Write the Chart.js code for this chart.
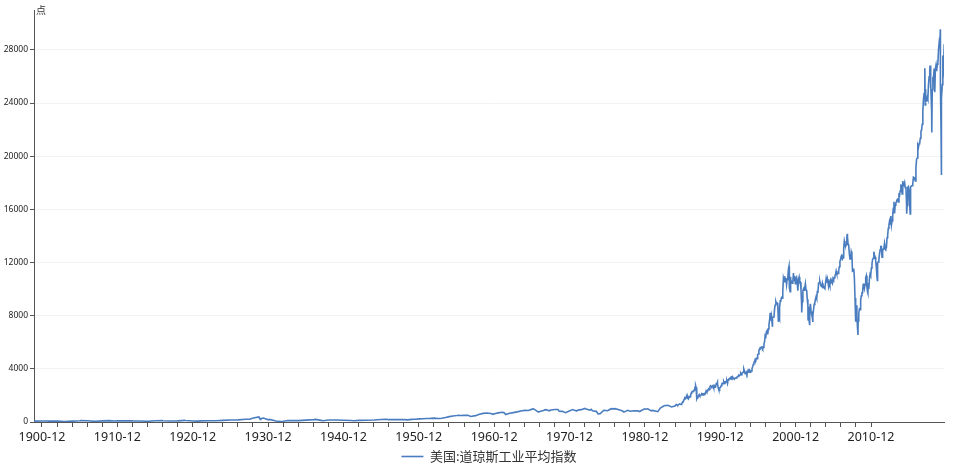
<!DOCTYPE html>
<html>
<head>
<meta charset="utf-8">
<script src="https://cdn.jsdelivr.net/npm/chart.js@4.4.1/dist/chart.umd.min.js"></script>
<style>
  html, body { margin: 0; padding: 0; background: #fff; }
  #wrap { position: relative; width: 958px; height: 473px; }
</style>
</head>
<body>
<div id="wrap"><canvas id="c"></canvas></div>
<script>
// series name and unit
const seriesName = "美国:道琼斯工业平均指数";
const unitLabel = "点";

// 1899 - 1984, sparse points (year-end plus main highs / lows)
const earlyDates = [
  "1899-11", "1900-12", "1901-06", "1901-12", "1902-12", "1903-11", "1904-12", "1905-12",
  "1906-01", "1906-12", "1907-11", "1907-12", "1908-12", "1909-11", "1910-07", "1910-12",
  "1911-12", "1912-09", "1912-12", "1913-12", "1914-12", "1915-12", "1916-11", "1916-12",
  "1917-12", "1918-12", "1919-11", "1919-12", "1920-12", "1921-08", "1921-12", "1922-12",
  "1923-12", "1924-12", "1925-12", "1926-12", "1927-12", "1928-06", "1928-12", "1929-09",
  "1929-11", "1929-12", "1930-04", "1930-12", "1931-02", "1931-12", "1932-07", "1932-12",
  "1933-07", "1933-12", "1934-12", "1935-12", "1936-12", "1937-03", "1937-12", "1938-03",
  "1938-12", "1939-12", "1940-12", "1941-12", "1942-04", "1942-12", "1943-12", "1944-12",
  "1945-12", "1946-05", "1946-12", "1947-12", "1948-12", "1949-06", "1949-12",
  "1950-06", "1950-12", "1951-06", "1951-12", "1952-06", "1952-12", "1953-06", "1953-09",
  "1953-12", "1954-06", "1954-12", "1955-06", "1955-12", "1956-03", "1956-06", "1956-12",
  "1957-06", "1957-10", "1957-12", "1958-06", "1958-12", "1959-06", "1959-12", "1960-06",
  "1960-10", "1960-12", "1961-06", "1961-12", "1962-03", "1962-06", "1962-12", "1963-06",
  "1963-12", "1964-06", "1964-12", "1965-06", "1965-12", "1966-02", "1966-06", "1966-10",
  "1966-12", "1967-06", "1967-09", "1967-12", "1968-03", "1968-06", "1968-12", "1969-05",
  "1969-07", "1969-12", "1970-05", "1970-12", "1971-04", "1971-11", "1971-12", "1972-06",
  "1972-12", "1973-01", "1973-08", "1973-10", "1973-12", "1974-06", "1974-09", "1974-12",
  "1975-06", "1975-12", "1976-06", "1976-09", "1976-12", "1977-06", "1977-12", "1978-02",
  "1978-08", "1978-12", "1979-06", "1979-12", "1980-03", "1980-06", "1980-11", "1980-12",
  "1981-04", "1981-09", "1981-12", "1982-08", "1982-12", "1983-06", "1983-12", "1984-06",
  "1984-12"
];
const earlyValues = [
  67, 71, 78, 64, 64, 43, 69, 96,
  103, 94, 53, 59, 86, 100, 73, 81,
  82, 94, 88, 79, 54, 99, 110, 95,
  74, 82, 119, 107, 72, 64, 81, 99,
  95, 120, 156, 157, 202, 210, 300, 381,
  199, 248, 294, 165, 194, 78, 41, 60,
  108, 100, 104, 144, 180, 194, 121, 99,
  155, 150, 131, 111, 93, 119, 136, 152,
  193, 212, 177, 181, 177, 161, 200,
  209, 235, 242, 269, 274, 292, 268, 264,
  281, 334, 404, 451, 488, 512, 493, 500,
  503, 420, 436, 478, 584, 650, 679, 641,
  580, 616, 684, 731, 706, 561, 652, 707,
  763, 831, 874, 868, 969, 995, 870, 744,
  786, 860, 927, 905, 840, 898, 944, 937,
  815, 800, 700, 839, 941, 831, 890, 929,
  1020, 999, 887, 956, 851, 802, 608, 616,
  879, 852, 1003, 990, 1005, 916, 831, 742,
  877, 805, 842, 839, 786, 868, 993, 964,
  998, 850, 875, 777, 1047, 1222, 1259, 1133,
  1212
];

// month-end closes from 1985-01 to 2020-08
const monthlyFrom = "1985-01";
const monthlyCloses = [
  1287, 1300, 1267, 1258, 1315, 1336, 1348, 1334, 1329, 1374, 1472, 1547, // 1985
  1571, 1709, 1819, 1784, 1877, 1893, 1775, 1898, 1768, 1878, 1914, 1896, // 1986
  2158, 2224, 2305, 2286, 2292, 2419, 2572, 2663, 2596, 1994, 1834, 1939, // 1987
  1958, 2072, 1988, 2032, 2031, 2142, 2129, 2032, 2113, 2149, 2115, 2169, // 1988
  2342, 2258, 2294, 2419, 2480, 2440, 2661, 2737, 2693, 2645, 2706, 2753, // 1989
  2591, 2627, 2707, 2657, 2877, 2881, 2905, 2614, 2453, 2442, 2560, 2634, // 1990
  2736, 2882, 2914, 2888, 3028, 2907, 3025, 3044, 3017, 3069, 2895, 3169, // 1991
  3224, 3267, 3236, 3359, 3397, 3319, 3394, 3257, 3272, 3226, 3306, 3301, // 1992
  3310, 3371, 3435, 3428, 3527, 3516, 3540, 3651, 3555, 3681, 3684, 3754, // 1993
  3978, 3832, 3636, 3682, 3758, 3625, 3765, 3913, 3843, 3908, 3739, 3834, // 1994
  3844, 4011, 4158, 4321, 4465, 4556, 4709, 4647, 4789, 4756, 5075, 5117, // 1995
  5395, 5486, 5588, 5569, 5643, 5655, 5529, 5616, 5882, 6029, 6522, 6448, // 1996
  6813, 6878, 6584, 7009, 7331, 7673, 8223, 7622, 7945, 7442, 7823, 7908, // 1997
  7907, 8546, 8800, 9063, 8900, 8952, 8883, 7539, 7843, 8592, 9117, 9181, // 1998
  9359, 9307, 9786, 10789, 10560, 10971, 10655, 10829, 10337, 10729, 10878, 11497, // 1999
  10941, 10128, 10922, 10734, 10522, 10448, 10522, 11215, 10651, 10971, 10415, 10788, // 2000
  10887, 10495, 9879, 10735, 10912, 10502, 10523, 9950, 8848, 9075, 9852, 10022, // 2001
  9920, 10106, 10404, 9946, 9925, 9243, 8737, 8664, 7592, 8397, 8896, 8342, // 2002
  8054, 7891, 7992, 8480, 8850, 8985, 9234, 9416, 9275, 9801, 9782, 10454, // 2003
  10488, 10584, 10358, 10226, 10188, 10435, 10140, 10174, 10080, 10027, 10428, 10783, // 2004
  10490, 10766, 10504, 10193, 10467, 10275, 10641, 10482, 10569, 10440, 10806, 10718, // 2005
  10865, 10993, 11109, 11367, 11168, 11150, 11186, 11381, 11679, 12081, 12222, 12463, // 2006
  12622, 12269, 12354, 13063, 13628, 13409, 13212, 13358, 13896, 13930, 13372, 13265, // 2007
  12650, 12266, 12263, 12820, 12638, 11350, 11378, 11544, 10851, 9325, 8829, 8776, // 2008
  8001, 7063, 7609, 8168, 8500, 8447, 9172, 9496, 9712, 9713, 10345, 10428, // 2009
  10067, 10325, 10857, 11009, 10137, 9774, 10466, 10015, 10788, 11118, 11006, 11578, // 2010
  11892, 12226, 12320, 12811, 12570, 12414, 12143, 11614, 10913, 11955, 12046, 12218, // 2011
  12633, 12952, 13212, 13214, 12393, 12880, 13009, 13091, 13437, 13096, 13026, 13104, // 2012
  13861, 14054, 14579, 14840, 15116, 14910, 15500, 14810, 15130, 15546, 16086, 16577, // 2013
  15699, 16322, 16458, 16581, 16717, 16827, 16563, 17098, 17043, 17391, 17828, 17823, // 2014
  17165, 18133, 17776, 17841, 18011, 17620, 17690, 16528, 16285, 17664, 17720, 17425, // 2015
  16466, 16517, 17685, 17774, 17787, 17930, 18432, 18401, 18308, 18142, 19124, 19763, // 2016
  19864, 20812, 20663, 20941, 21009, 21350, 21891, 21948, 22405, 23377, 24272, 24719, // 2017
  26149, 25029, 24103, 24163, 24416, 24271, 25415, 25965, 26458, 25116, 25538, 23327, // 2018
  24999, 25916, 25929, 26593, 24815, 26600, 26864, 26403, 26917, 27046, 28051, 28538, // 2019
  28256, 25409, 21917, 24346, 25383, 25813, 26428, 28430  // 2020
];

// intra-month highs and lows after 1985
const spikeDates = [
  "1987-08-25", "1987-10-19", "1990-07-16", "1990-10-11", "1997-10-27", "1998-10-08",
  "2000-01-14", "2000-03-07", "2001-09-21", "2002-07-23", "2002-10-09", "2003-03-11",
  "2007-10-09", "2008-11-20", "2009-03-09", "2010-07-02", "2011-10-03", "2015-08-25",
  "2016-02-11", "2018-01-26", "2018-02-08", "2018-10-03", "2018-12-24", "2020-02-12",
  "2020-03-23", "2020-06-08"
];
const spikeValues = [
  2722, 1739, 2999, 2365, 7161, 7731,
  11723, 9796, 8236, 7702, 7286, 7524,
  14165, 7552, 6547, 9686, 10655, 15666,
  15660, 26617, 23860, 26828, 21792, 29551,
  18592, 27572
];

// axis ticks
const xTickLabels = ["1900-12", "1910-12", "1920-12", "1930-12", "1940-12", "1950-12",
  "1960-12", "1970-12", "1980-12", "1990-12", "2000-12", "2010-12"];
const yTickValues = [0, 4000, 8000, 12000, 16000, 20000, 24000, 28000];

const lineColor = "#4a7dbf";

function toYear(s) {
  const p = s.split("-").map(Number);
  if (p.length > 2) return p[0] + (p[1] - 1) / 12 + (p[2] - 1) / 365;
  return p[0] + (p[1] - 0.5) / 12;
}
function tickYear(s) {
  const p = s.split("-").map(Number);
  return p[0] + (p[1] - 1) / 12;
}

let points = [];
earlyDates.forEach((d, i) => points.push({ x: toYear(d), y: earlyValues[i] }));
const startYear = Number(monthlyFrom.split("-")[0]);
monthlyCloses.forEach((v, i) => {
  const y = startYear + Math.floor(i / 12);
  const m = (i % 12) + 1;
  points.push({ x: toYear(y + "-" + m), y: v });
});
spikeDates.forEach((d, i) => points.push({ x: toYear(d), y: spikeValues[i] }));
points.sort((a, b) => a.x - b.x);

// minor x ticks every 2 years, labels only on xTickLabels
const firstTick = tickYear(xTickLabels[0]);
const lastTick = tickYear(xTickLabels[xTickLabels.length - 1]);

const unitPlugin = {
  id: "unitLabel",
  afterDraw(chart) {
    const ctx = chart.ctx;
    const area = chart.chartArea;
    ctx.save();
    ctx.fillStyle = "#333";
    ctx.font = "10px 'Noto Sans CJK SC'";
    ctx.textAlign = "left";
    ctx.textBaseline = "middle";
    ctx.fillText(unitLabel, area.left + 2, area.top);
    ctx.restore();
  },
};

const ctx = document.getElementById("c");
new Chart(ctx, {
  type: "line",
  data: {
    datasets: [
      {
        label: seriesName,
        data: points,
        borderColor: lineColor,
        backgroundColor: lineColor,
        borderWidth: 1.6,
        pointRadius: 0,
        tension: 0,
        fill: false,
      },
    ],
  },
  options: {
    responsive: true,
    maintainAspectRatio: false,
    animation: false,
    parsing: false,
    layout: { padding: { top: 10, right: 14, left: 0, bottom: 0 } },
    plugins: {
      legend: {
        position: "bottom",
        fullSize: false,
        labels: {
          usePointStyle: true,
          pointStyle: "line",
          pointStyleWidth: 22,
          boxHeight: 2,
          color: "#333",
          padding: 5,
          font: { size: 13, family: "'Noto Sans CJK SC'" },
        },
      },
      tooltip: { enabled: false },
    },
    scales: {
      x: {
        type: "linear",
        min: 1899.86,
        max: 2020.6,
        afterFit(scale) {
          scale.height = 23;
        },
        afterBuildTicks(scale) {
          const t = [];
          for (let v = firstTick; v <= lastTick + 1.5; v += 2) t.push({ value: v });
          scale.ticks = t;
        },
        ticks: {
          autoSkip: false,
          maxRotation: 0,
          padding: 3,
          color: "#222",
          font: { size: 12.5, family: "'Noto Sans', sans-serif" },
          callback(value) {
            const y = Math.round(value - 11 / 12);
            const lab = y + "-12";
            return xTickLabels.includes(lab) ? lab : "";
          },
        },
        grid: {
          drawOnChartArea: false,
          drawTicks: true,
          tickLength: 5,
          tickColor: "#555",
        },
        border: { display: true, color: "#555", width: 1 },
      },
      y: {
        min: 0,
        max: 31000,
        afterFit(scale) {
          scale.width = 34;
        },
        afterBuildTicks(scale) {
          scale.ticks = yTickValues.map((v) => ({ value: v }));
        },
        ticks: {
          padding: 2,
          color: "#222",
          font: { size: 8.5, family: "'Noto Sans', sans-serif" },
          callback(value) {
            return String(value);
          },
        },
        grid: {
          color: "#f2f2f2",
          drawTicks: true,
          tickLength: 4,
          tickColor: "#555",
        },
        border: { display: true, color: "#555", width: 1 },
      },
    },
  },
  plugins: [unitPlugin],
});
</script>
</body>
</html>
